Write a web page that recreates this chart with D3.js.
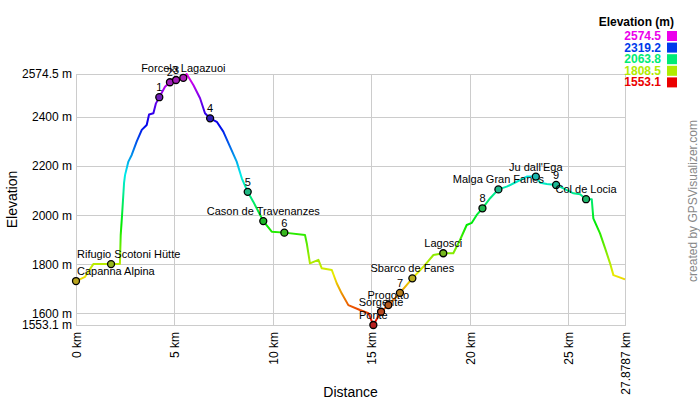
<!DOCTYPE html>
<html>
<head>
<meta charset="utf-8">
<script src="https://cdn.jsdelivr.net/npm/d3@7"></script>
<style>
  body { margin: 0; background: #fff; }
  svg { font-family: "Liberation Sans", Arial, sans-serif; }
</style>
</head>
<body>
<div id="chart"></div>
<script>
// profile track: distance (km) and elevation (m)
const trackDist = [0, 0.46, 0.61, 0.88, 1.78, 2.23, 2.27, 2.34, 2.44, 2.49, 2.66, 2.83, 3.08, 3.34, 3.59, 3.71,
  3.93, 4.06, 4.23, 4.52, 4.77, 5.08, 5.45, 5.62, 5.96, 6.30, 6.55, 6.81, 7.15, 7.48, 7.82, 8.16, 8.42, 8.72,
  9.00, 9.51, 9.94, 10.58, 11.63, 11.72, 11.88, 12.31, 12.48, 12.99, 13.24, 13.49, 13.83, 14.42, 14.85, 15.10,
  15.49, 15.86, 16.45, 17.08, 17.64, 18.15, 18.65, 19.16, 19.50, 19.84, 20.10, 20.35, 20.64, 21.03, 21.45,
  21.87, 22.38, 22.89, 23.35, 23.57, 23.91, 24.38, 24.75, 25.26, 25.60, 25.90, 26.19, 26.27, 26.61, 26.87,
  27.12, 27.29, 27.54, 27.8787];
const trackElev = [1732, 1749, 1769, 1801, 1801, 1801, 1919, 2001, 2131, 2163, 2218, 2245, 2299, 2347, 2367, 2410,
  2415, 2455, 2480, 2523, 2541, 2550, 2559, 2574.5, 2530, 2476, 2415, 2394, 2380, 2340, 2279, 2218, 2150, 2095,
  2055, 1976, 1933, 1929, 1919, 1885, 1804, 1818, 1784, 1777, 1723, 1682, 1634, 1614, 1601, 1553.1,
  1607, 1634, 1684, 1743, 1790, 1838, 1845, 1845, 1899, 1960, 1969, 2001, 2028, 2069, 2105,
  2116, 2136, 2157, 2157, 2132, 2127, 2123, 2109, 2089, 2085, 2065, 2065, 1987, 1926, 1865,
  1804, 1756, 1749, 1739];

// waypoints
const wpNames = ["Capanna Alpina", "Rifugio Scotoni Hütte", "1", "2", "3", "Forcela Lagazuoi", "4", "5",
  "Cason de Travenanzes", "6", "Ponte", "Sorgente", "Progotto", "7", "Sbarco de Fanes", "Lagosci", "8",
  "Malga Gran Fanes", "Ju dall'Ega", "9", "Col de Locia"];
const wpDist = [0, 1.78, 4.23, 4.77, 5.08, 5.45, 6.81, 8.72, 9.51, 10.58, 15.10, 15.49, 15.86, 16.45, 17.08,
  18.65, 20.64, 21.45, 23.35, 24.38, 25.90];
const wpElev = [1732, 1801, 2480, 2541, 2550, 2559, 2394, 2095, 1976, 1929, 1553.1, 1607, 1634, 1684, 1743,
  1845, 2028, 2105, 2157, 2123, 2065];

// axes ticks and legend
const xTicks = [0, 5, 10, 15, 20, 25, 27.8787];
const yTicks = [1553.1, 1600, 1800, 2000, 2200, 2400, 2574.5];
const legendValues = [2574.5, 2319.2, 2063.8, 1808.5, 1553.1];

const width = 700, height = 400;
const margin = { top: 74, right: 75, bottom: 75, left: 76 };
const plotW = width - margin.left - margin.right,
  plotH = height - margin.top - margin.bottom;

const svg = d3.select("#chart").append("svg")
  .attr("width", width)
  .attr("height", height);

const g = svg.append("g")
  .attr("transform", `translate(${margin.left},${margin.top})`);

const x = d3.scaleLinear().domain([0, 27.8787]).range([0, plotW]);
const y = d3.scaleLinear().domain([1553.1, 2574.5]).range([plotH, 0]);

// colour by elevation: hue 0 (low) -> 300 (high)
const hue = d3.scaleLinear().domain([1553.1, 2574.5]).range([0, 300]);
const elevColor = e => d3.hsl(hue(e), 1, 0.46).formatHex();

// grid + y axis
const yAxis = g.append("g")
  .attr("class", "y-axis")
  .call(d3.axisLeft(y).tickValues(yTicks).tickSizeInner(-plotW).tickSizeOuter(0).tickPadding(4)
    .tickFormat(d => d + " m"));

// grid + x axis
const xAxis = g.append("g")
  .attr("class", "x-axis")
  .attr("transform", `translate(0,${plotH})`)
  .call(d3.axisBottom(x).tickValues(xTicks).tickSizeInner(-plotH).tickSizeOuter(0).tickPadding(7)
    .tickFormat(d => d + " km"));

g.selectAll(".domain").remove();
g.selectAll(".tick line").attr("stroke", "#cccccc").attr("shape-rendering", "crispEdges");
yAxis.selectAll("text").attr("font-size", 12).attr("fill", "#000");
xAxis.selectAll("text")
  .attr("font-size", 12).attr("fill", "#000")
  .attr("transform", "rotate(-90)")
  .attr("text-anchor", "end")
  .attr("x", -7).attr("y", 0).attr("dy", "0.35em");

// frame
g.append("rect")
  .attr("width", plotW).attr("height", plotH)
  .attr("fill", "none").attr("stroke", "#cccccc")
  .attr("shape-rendering", "crispEdges");

// vertical gradient following the elevation scale
const grad = svg.append("defs").append("linearGradient")
  .attr("id", "elevGrad")
  .attr("gradientUnits", "userSpaceOnUse")
  .attr("x1", 0).attr("x2", 0)
  .attr("y1", y(1553.1)).attr("y2", y(2574.5));
d3.range(0, 11).forEach(i => {
  const e = 1553.1 + (2574.5 - 1553.1) * i / 10;
  grad.append("stop").attr("offset", i / 10).attr("stop-color", elevColor(e));
});

const line = d3.line()
  .x((d, i) => x(trackDist[i]))
  .y((d, i) => y(trackElev[i]));

g.append("path")
  .datum(trackElev)
  .attr("fill", "none")
  .attr("stroke", "url(#elevGrad)")
  .attr("stroke-width", 2)
  .attr("stroke-linejoin", "round")
  .attr("d", line);

// waypoints
const wp = g.selectAll(".wp")
  .data(wpNames)
  .enter().append("g")
  .attr("class", "wp");

wp.append("circle")
  .attr("cx", (d, i) => x(wpDist[i]))
  .attr("cy", (d, i) => y(wpElev[i]))
  .attr("r", 3.5)
  .attr("fill", (d, i) => d3.interpolateRgb(elevColor(wpElev[i]), "#555")(0.35))
  .attr("stroke", "#000")
  .attr("stroke-width", 1.3);

wp.append("text")
  .attr("x", (d, i) => x(wpDist[i]))
  .attr("y", (d, i) => y(wpElev[i]) - 6)
  .attr("text-anchor", "middle")
  .attr("font-size", 11)
  .attr("fill", "#000")
  .text(d => d)
  .each(function () {
    // keep labels inside the plot on the left side
    const b = this.getBBox();
    if (b.x < 1) {
      d3.select(this).attr("text-anchor", "start").attr("x", 1);
    }
  });

// axis titles
svg.append("text")
  .attr("x", margin.left + plotW / 2)
  .attr("y", 397)
  .attr("text-anchor", "middle")
  .attr("font-size", 14)
  .text("Distance");

svg.append("text")
  .attr("transform", `translate(17,${margin.top + plotH / 2}) rotate(-90)`)
  .attr("text-anchor", "middle")
  .attr("font-size", 14)
  .text("Elevation");

// legend
svg.append("text")
  .attr("x", 674).attr("y", 26)
  .attr("text-anchor", "end")
  .attr("font-size", 12)
  .attr("font-weight", "bold")
  .text("Elevation (m)");

const leg = svg.selectAll(".leg")
  .data(legendValues)
  .enter().append("g")
  .attr("class", "leg")
  .attr("transform", (d, i) => `translate(0,${36 + i * 11.6})`);

leg.append("text")
  .attr("x", 661).attr("y", 4)
  .attr("text-anchor", "end")
  .attr("font-size", 12)
  .attr("font-weight", "bold")
  .attr("fill", d => elevColor(d))
  .text(d => d.toFixed(1));

leg.append("rect")
  .attr("x", 667).attr("y", -5)
  .attr("width", 10).attr("height", 10)
  .attr("fill", d => elevColor(d));

// credit
svg.append("text")
  .attr("transform", "translate(697,201) rotate(-90)")
  .attr("text-anchor", "middle")
  .attr("font-size", 12)
  .attr("fill", "#888")
  .text("created by GPSVisualizer.com");
</script>
</body>
</html>
